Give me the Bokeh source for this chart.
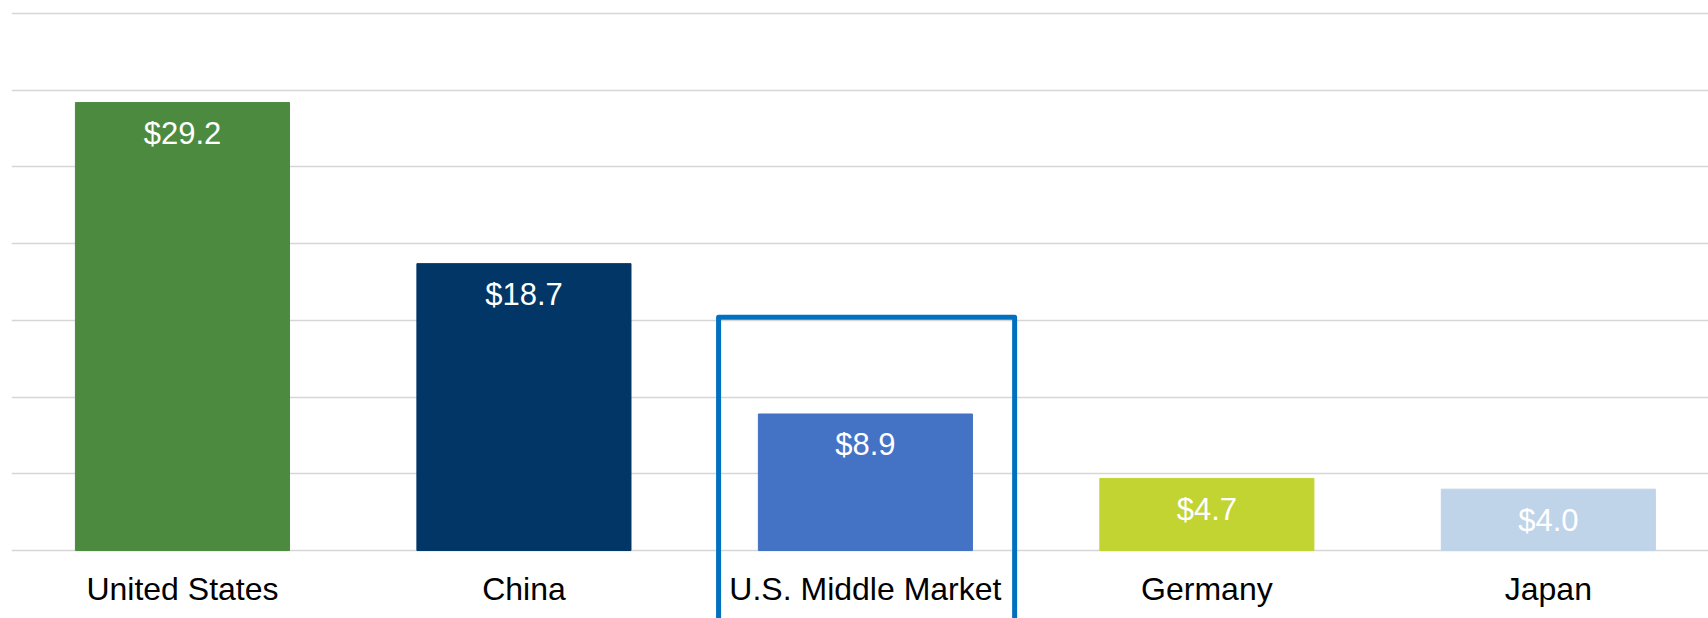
from bokeh.plotting import figure
from bokeh.models import Range1d, FixedTicker, Grid, ColumnDataSource
from bokeh.core.properties import value
from bokeh.embed import file_html
from bokeh.resources import INLINE

categories = ["United States", "China", "U.S. Middle Market", "Germany", "Japan"]
values = [29.2, 18.7, 8.9, 4.7, 4.0]
value_labels = ["$29.2", "$18.7", "$8.9", "$4.7", "$4.0"]
colors = ["#4C8B3F", "#023666", "#4472C4", "#C2D431", "#BFD4E8"]
grid_ticks = [0, 5, 10, 15, 20, 25, 30, 35]

highlight_index = 2
highlight_top = 15.2

xs = list(range(len(categories)))
src = ColumnDataSource(dict(x=xs, top=values, cat=categories, lab=value_labels,
                            color=colors, cat_y=[-2.48] * len(categories)))

p = figure(width=1708, height=618, output_backend="svg", toolbar_location=None,
           x_range=Range1d(-0.5007, 4.469), y_range=Range1d(-4.43, 35.33),
           x_axis_type=None, y_axis_type=None,
           min_border_left=11, min_border_right=0, min_border_top=8, min_border_bottom=0)
p.outline_line_color = None
p.background_fill_color = "white"
p.border_fill_color = "white"

grid = Grid(dimension=1, ticker=FixedTicker(ticks=grid_ticks),
            grid_line_color="#D6D6D6", grid_line_width=1.7)
p.add_layout(grid)

p.vbar(x="x", top="top", bottom=0, width=0.627, color="color", source=src)

p.text(x="x", y="top", text="lab", source=src, text_color="white",
       text_font=value("Liberation Sans"), text_font_size="31px",
       text_align="center", text_baseline="middle", y_offset=31)

p.text(x="x", y="cat_y", text="cat", source=src, text_color="black",
       text_font=value("Liberation Sans"), text_font_size="32px",
       text_align="center", text_baseline="middle")

p.quad(left=highlight_index - 0.43, right=highlight_index + 0.437,
       top=highlight_top, bottom=-8, fill_color=None,
       line_color="#0070C0", line_width=5, line_join="round")

open("out.html", "w").write(file_html(p, INLINE))
